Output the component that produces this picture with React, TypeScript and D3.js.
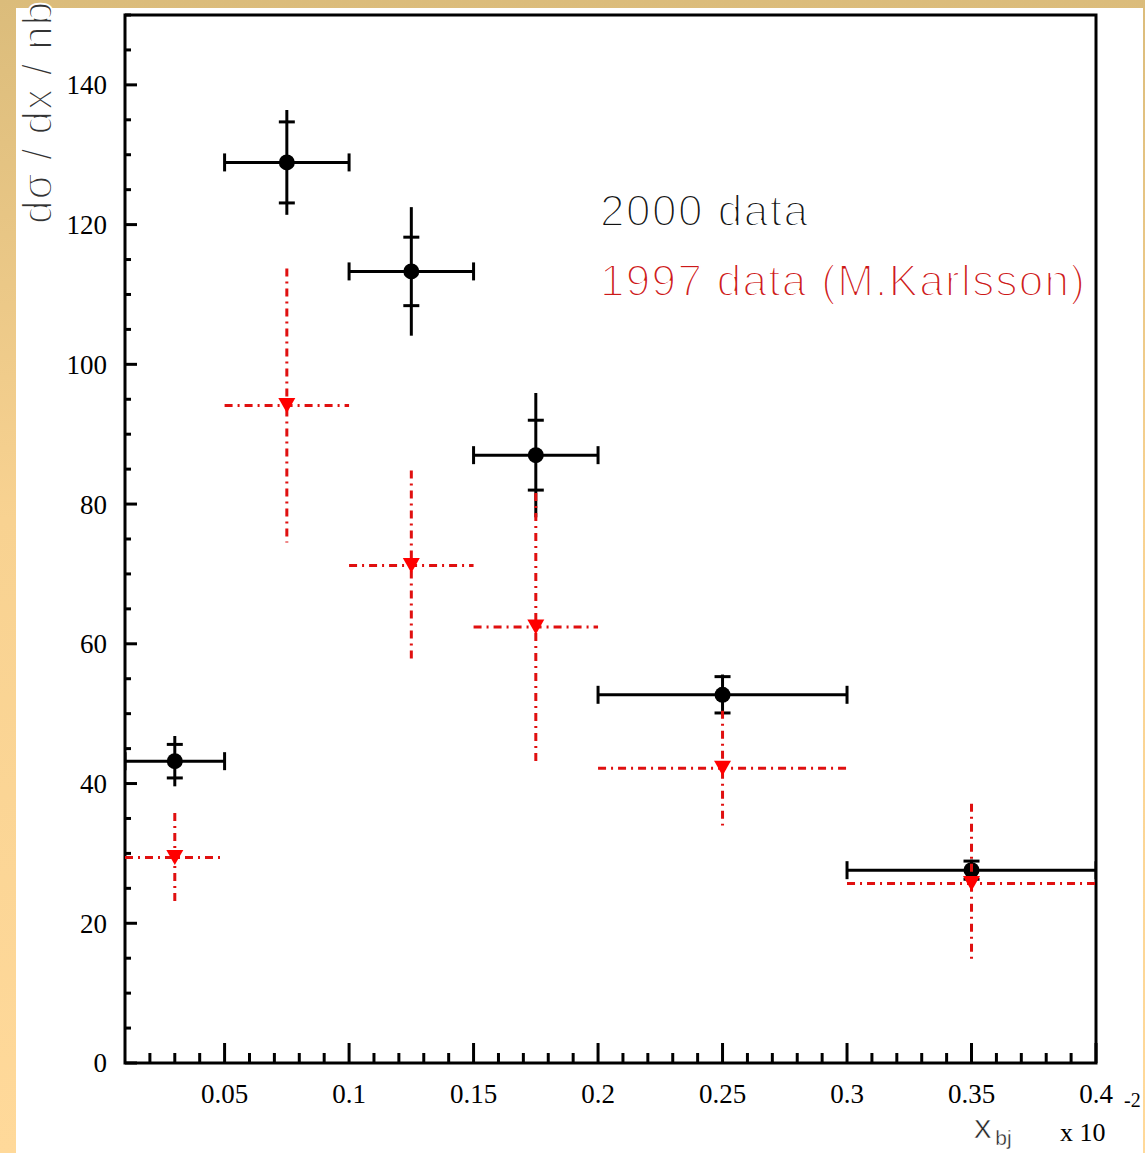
import React from "react";
import * as d3 from "d3";

// ---- data ----
const binLo = [0.01, 0.05, 0.1, 0.15, 0.2, 0.3];
const binHi = [0.05, 0.1, 0.15, 0.2, 0.3, 0.4];
const xCenter = [0.03, 0.075, 0.125, 0.175, 0.25, 0.35];

const y2000 = [43.2, 128.9, 113.3, 87.0, 52.7, 27.6];
const stat2000 = [2.4, 5.8, 4.9, 5.0, 2.6, 1.3];
const tot2000 = [3.6, 7.5, 9.2, 8.9, 2.9, 1.5];

const y1997 = [29.4, 94.1, 71.2, 62.4, 42.2, 25.7];
const err1997 = [6.4, 19.6, 13.6, 19.2, 8.2, 11.4];

const xMajorTicks = [0.05, 0.1, 0.15, 0.2, 0.25, 0.3, 0.35, 0.4];
const xTickLabels = ["0.05", "0.1", "0.15", "0.2", "0.25", "0.3", "0.35", "0.4"];
const yMajorTicks = [0, 20, 40, 60, 80, 100, 120, 140];
const legendLabels = ["2000 data", "1997 data (M.Karlsson)"];

const W = 1145;
const H = 1153;

export default function App() {
  const x = d3.scaleLinear().domain([0.01, 0.4]).range([125, 1096]);
  const y = d3.scaleLinear().domain([0, 150]).range([1063, 15]);

  const xMinor = d3.range(2, 40).map((i) => i / 100).filter((v) => Math.round(v * 100) % 5 !== 0);
  const yMinor = d3.range(0, 151, 5).filter((v) => v % 20 !== 0);

  const serif = "'Liberation Serif', 'DejaVu Serif', serif";
  const sans = "'DejaVu Sans ExtraLight', 'Liberation Sans', 'DejaVu Sans', sans-serif";
  const red = "#e01010";
  const dash = "8,5,2,5";

  // thin-looking text: solid fill, eroded by a white stroke painted on top
  const thin = (c: string, sw = 2) => ({ fill: c, stroke: "#fff", strokeWidth: sw });

  const tri = (cx: number, cy: number) => {
    const w = 8.5, h = 7.5;
    return `M${cx - w},${cy - h}L${cx + w},${cy - h}L${cx},${cy + h}Z`;
  };

  return (
    <div style={{ position: "absolute", left: 0, top: 0 }}>
      <svg width={W} height={H} style={{ display: "block" }}>
        <defs>
          <linearGradient id="bg" x1="0" y1="0" x2="0" y2="1">
            <stop offset="0" stopColor="#dbbc7b" />
            <stop offset="0.45" stopColor="#f8d291" />
            <stop offset="1" stopColor="#ffd99a" />
          </linearGradient>
          <clipPath id="plot">
            <rect x={125} y={15} width={971} height={1048} />
          </clipPath>
        </defs>
        <rect x={0} y={0} width={W} height={H} fill="url(#bg)" />
        <rect x={16} y={8} width={1127} height={H - 8} fill="#ffffff" />

        {/* frame */}
        <rect x={125} y={15} width={971} height={1048} fill="none" stroke="#000" strokeWidth={3} />

        {/* y ticks */}
        {yMajorTicks.map((v) => (
          <g key={"yt" + v}>
            <line x1={125} x2={137} y1={y(v)} y2={y(v)} stroke="#000" strokeWidth={3} />
            <text x={107} y={y(v)} dy="0.35em" textAnchor="end" fontFamily={serif} fontSize={27}>
              {v}
            </text>
          </g>
        ))}
        {yMinor.map((v) => (
          <line key={"ym" + v} x1={125} x2={131} y1={y(v)} y2={y(v)} stroke="#000" strokeWidth={3} />
        ))}

        {/* x ticks */}
        {xMajorTicks.map((v, i) => (
          <g key={"xt" + v}>
            <line x1={x(v)} x2={x(v)} y1={1063} y2={1043} stroke="#000" strokeWidth={3} />
            <text x={x(v)} y={1103} textAnchor="middle" fontFamily={serif} fontSize={27}>
              {xTickLabels[i]}
            </text>
          </g>
        ))}
        {xMinor.map((v) => (
          <line key={"xm" + v} x1={x(v)} x2={x(v)} y1={1063} y2={1053} stroke="#000" strokeWidth={3} />
        ))}

        {/* axis titles */}
        <text
          transform="translate(52,2) rotate(-90)"
          textAnchor="end"
          fontFamily={sans}
          fontSize={42}
          textLength={222}
          lengthAdjust="spacing"
          {...thin("#333", 1.8)}
        >
          dσ / dx / nb
        </text>
        <text x={974} y={1138} fontFamily={sans} fontSize={26} {...thin("#222", 0.4)}>
          X<tspan dx={4} dy={7} fontSize={21}>bj</tspan>
        </text>
        <text x={1060} y={1141} fontFamily={serif} fontSize={26}>x 10</text>
        <text x={1124} y={1107} fontFamily={serif} fontSize={20}>-2</text>

        {/* 2000 data */}
        <g clipPath="url(#plot)">
          {xCenter.map((xc, i) => {
            const cx = x(xc);
            const cy = y(y2000[i]);
            return (
              <g key={"b" + i} stroke="#000" strokeWidth={3}>
                <line x1={x(binLo[i])} x2={x(binHi[i])} y1={cy} y2={cy} />
                <line x1={x(binLo[i])} x2={x(binLo[i])} y1={cy - 9} y2={cy + 9} />
                <line x1={x(binHi[i])} x2={x(binHi[i])} y1={cy - 9} y2={cy + 9} />
                <line x1={cx} x2={cx} y1={y(y2000[i] + tot2000[i])} y2={y(y2000[i] - tot2000[i])} />
                <line x1={cx - 8} x2={cx + 8} y1={y(y2000[i] + stat2000[i])} y2={y(y2000[i] + stat2000[i])} />
                <line x1={cx - 8} x2={cx + 8} y1={y(y2000[i] - stat2000[i])} y2={y(y2000[i] - stat2000[i])} />
                <circle cx={cx} cy={cy} r={8} fill="#000" stroke="none" />
              </g>
            );
          })}
        </g>

        {/* 1997 data */}
        <g clipPath="url(#plot)">
          {xCenter.map((xc, i) => {
            const cx = x(xc);
            const cy = y(y1997[i]);
            return (
              <g key={"r" + i}>
                <line x1={x(binLo[i])} x2={x(binHi[i])} y1={cy} y2={cy} stroke={red} strokeWidth={3} strokeDasharray={dash} />
                <line x1={cx} x2={cx} y1={y(y1997[i] + err1997[i])} y2={y(y1997[i] - err1997[i])} stroke={red} strokeWidth={3} strokeDasharray={dash} />
                <path d={tri(cx, cy)} fill="#ff0000" />
              </g>
            );
          })}
        </g>

        {/* legend */}
        <text x={600} y={226} fontFamily={sans} fontSize={44} textLength={208} lengthAdjust="spacing" {...thin("#111", 2)}>
          {legendLabels[0]}
        </text>
        <text x={600} y={296} fontFamily={sans} fontSize={44} textLength={485} lengthAdjust="spacing" {...thin("#cc1818", 2)}>
          {legendLabels[1]}
        </text>
      </svg>
    </div>
  );
}
